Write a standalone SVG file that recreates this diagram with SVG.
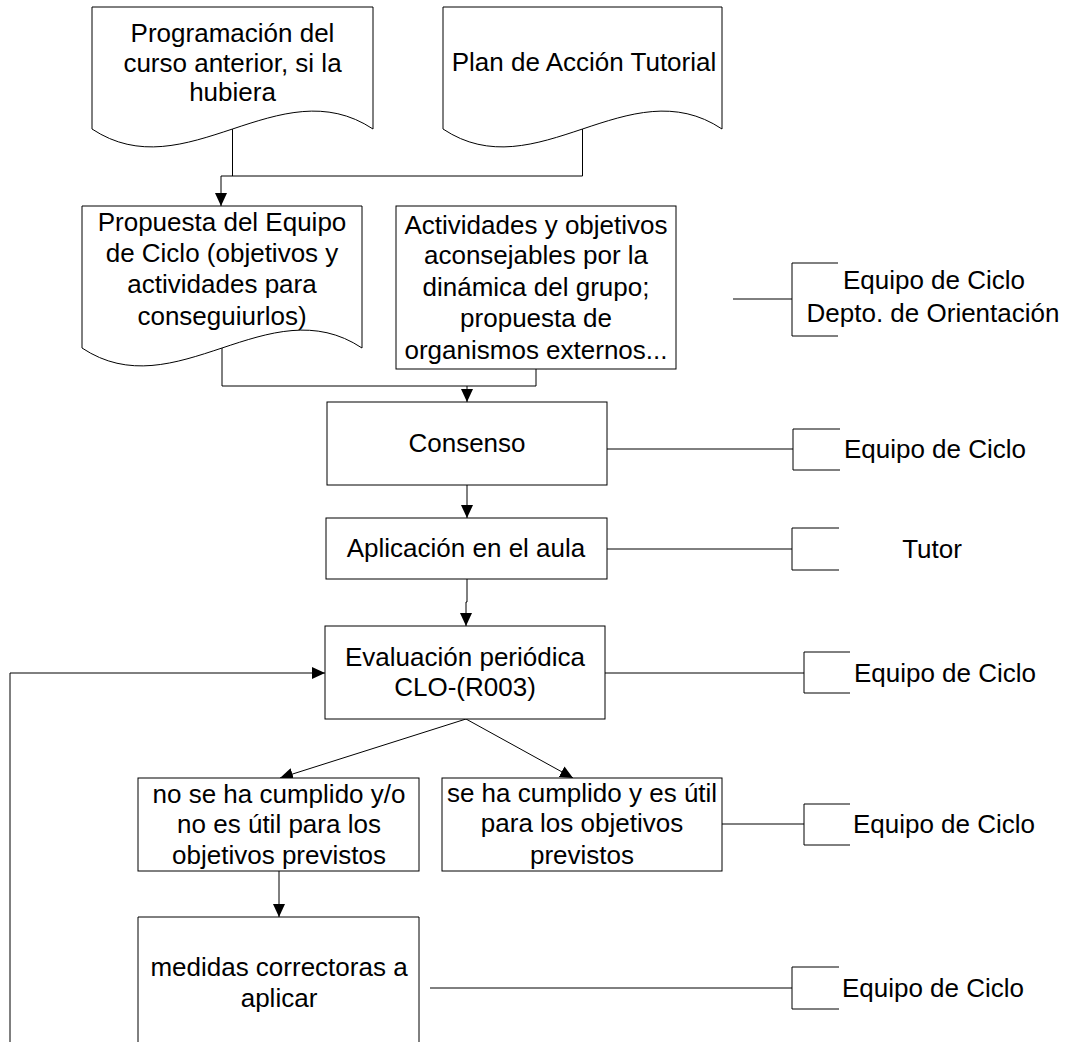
<svg xmlns="http://www.w3.org/2000/svg" width="1070" height="1042" viewBox="0 0 1070 1042">
<style>
.s{fill:#fff;stroke:#000;stroke-width:1}
.c{fill:none;stroke:#000;stroke-width:1}
text{font-family:"Liberation Sans",Arial,sans-serif;font-size:26px;fill:#000;text-anchor:middle}
</style>
<defs>
<marker id="ah" markerWidth="13" markerHeight="12" refX="13" refY="6" orient="auto" markerUnits="userSpaceOnUse">
<path d="M0,0 L13,6 L0,12 Z" fill="#000"/>
</marker>
</defs>
<rect width="1070" height="1042" fill="#fff"/>
<g id="connectors">
<path class="c" d="M232.5,129 V176 M582.5,129 V176 H221"/>
<path class="c" d="M221,176 V206" marker-end="url(#ah)"/>
<path class="c" d="M222,348 V386 H536 M536,369 V386"/>
<path class="c" d="M467,386 V402" marker-end="url(#ah)"/>
<path class="c" d="M467,485 V518" marker-end="url(#ah)"/>
<path class="c" d="M467,579 V602 H466 V626" marker-end="url(#ah)"/>
<path class="c" d="M10,1042 V673 H325" marker-end="url(#ah)"/>
<path class="c" d="M466,719 L280,778" marker-end="url(#ah)"/>
<path class="c" d="M466,719 L573,778" marker-end="url(#ah)"/>
<path class="c" d="M279,871 V917" marker-end="url(#ah)"/>
<path class="c" d="M733,299 H792 M838,263 H792 V336 H838"/>
<path class="c" d="M607,449 H793 M840,429 H793 V470 H840"/>
<path class="c" d="M607,549 H792 M839,528 H792 V570 H839"/>
<path class="c" d="M605,673 H804 M850,652 H804 V693 H850"/>
<path class="c" d="M722,824 H804 M850,804 H804 V845 H850"/>
<path class="c" d="M430,988 H792 M839,967 H792 V1009 H839"/>
</g>
<g id="doc-programacion">
<path class="s" d="M92,7 H373 V129 C279.3,67 185.7,191 92,129 Z"/>
<text x="232.5" y="42">Programación del</text>
<text x="232.5" y="72">curso anterior, si la</text>
<text x="232.5" y="101">hubiera</text>
</g>
<g id="doc-plan">
<path class="s" d="M443,7 H722 V129 C629,67 536,191 443,129 Z"/>
<text x="584" y="71">Plan de Acción Tutorial</text>
</g>
<g id="doc-propuesta">
<path class="s" d="M82,206 H362 V348 C268.7,286 175.3,410 82,348 Z"/>
<text x="222" y="231">Propuesta del Equipo</text>
<text x="222" y="262">de Ciclo (objetivos y</text>
<text x="222" y="293">actividades para</text>
<text x="222" y="325">conseguiurlos)</text>
</g>
<g id="actividades">
<rect class="s" x="396" y="206" width="280" height="163"/>
<text x="536" y="234">Actividades y objetivos</text>
<text x="536" y="264">aconsejables por la</text>
<text x="536" y="296">dinámica del grupo;</text>
<text x="536" y="327">propuesta de</text>
<text x="536" y="359">organismos externos...</text>
</g>
<g id="consenso">
<rect class="s" x="327" y="402" width="280" height="83"/>
<text x="467" y="452">Consenso</text>
</g>
<g id="aplicacion">
<rect class="s" x="326" y="518" width="281" height="61"/>
<text x="466" y="557">Aplicación en el aula</text>
</g>
<g id="evaluacion">
<rect class="s" x="325" y="626" width="280" height="93"/>
<text x="465" y="666">Evaluación periódica</text>
<text x="465" y="696">CLO-(R003)</text>
</g>
<g id="no-cumplido">
<rect class="s" x="138" y="778" width="281" height="93"/>
<text x="279" y="803">no se ha cumplido y/o</text>
<text x="279" y="833">no es útil para los</text>
<text x="279" y="864">objetivos previstos</text>
</g>
<g id="cumplido">
<rect class="s" x="442" y="778" width="280" height="93"/>
<text x="582" y="802">se ha cumplido y es útil</text>
<text x="582" y="832">para los objetivos</text>
<text x="582" y="864">previstos</text>
</g>
<g id="medidas">
<path class="s" d="M138,1043 V917 H419 V1043"/>
<text x="279" y="976">medidas correctoras a</text>
<text x="279" y="1007">aplicar</text>
</g>
<g id="resp-1">
<text x="934" y="289">Equipo de Ciclo</text>
<text x="933" y="322">Depto. de Orientación</text>
</g>
<g id="resp-2"><text x="935" y="458">Equipo de Ciclo</text></g>
<g id="resp-3"><text x="932" y="558">Tutor</text></g>
<g id="resp-4"><text x="945" y="682">Equipo de Ciclo</text></g>
<g id="resp-5"><text x="944" y="833">Equipo de Ciclo</text></g>
<g id="resp-6"><text x="933" y="997">Equipo de Ciclo</text></g>
</svg>
